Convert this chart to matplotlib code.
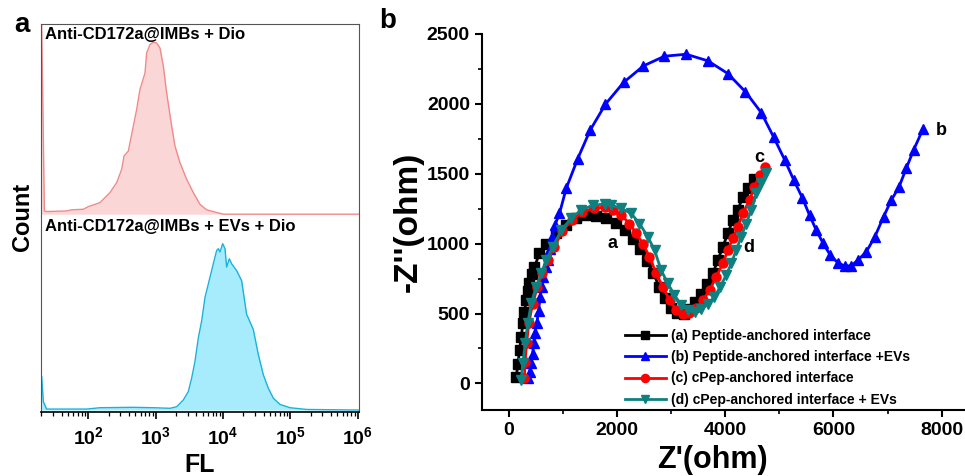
import numpy as np
import matplotlib
matplotlib.use("Agg")
import matplotlib.pyplot as plt
from matplotlib.ticker import FixedLocator, FixedFormatter, NullFormatter


# ============================================================
# Data
# ============================================================

# (a) flow cytometry histograms, x = log10(FL), y = relative count
dio_logfl = [1.307, 1.347, 1.381, 1.678, 1.752, 1.926, 2.000, 2.173, 2.322, 2.421,
             2.495, 2.530, 2.594, 2.668, 2.718, 2.767, 2.842, 2.866, 2.916, 2.965,
             3.015, 3.064, 3.114, 3.163, 3.238, 3.287, 3.361, 3.460, 3.559, 3.658,
             3.757, 3.906, 4.005, 6.010]
dio_count = [99.7, 1.7, 1.4, 1.7, 2.3, 2.6, 4.0, 6.1, 11.4, 16.6,
             23.6, 30.6, 33.2, 46.3, 55.1, 65.6, 74.3, 84.8, 89.2, 90.4,
             90.0, 87.4, 77.8, 63.8, 46.3, 35.8, 27.1, 18.4, 11.4, 5.2,
             2.3, 0.9, 0.0, 0.0]

ev_logfl = [1.307, 1.332, 1.381, 1.975, 2.173, 2.668, 2.965, 3.213, 3.312, 3.411,
            3.485, 3.535, 3.584, 3.634, 3.683, 3.733, 3.807, 3.856, 3.906, 3.931,
            3.955, 3.980, 3.995, 4.030, 4.054, 4.094, 4.129, 4.203, 4.277, 4.351,
            4.450, 4.525, 4.599, 4.673, 4.748, 4.847, 4.995, 5.243, 6.010]
ev_count = [17.3, 4.3, 0.5, 0.5, 1.2, 1.4, 1.2, 0.9, 1.7, 5.2,
            9.5, 16.5, 25.1, 37.3, 45.9, 58.1, 68.5, 75.4, 82.3, 83.2,
            81.5, 84.1, 85.8, 83.2, 73.7, 78.0, 75.4, 71.9, 66.7, 49.4,
            41.6, 28.6, 18.2, 11.3, 6.1, 2.9, 1.2, 0.3, 0.0]

# (b) Nyquist plots, Z' and -Z'' in ohm
a_zre = [137, 170, 198, 230, 259, 290, 321, 350, 382, 430, 475, 567, 691, 876, 1061,
         1246, 1430, 1615, 1800, 1985, 2150, 2300, 2430, 2550, 2670, 2780, 2880, 3000,
         3110, 3230, 3340, 3450, 3560, 3660, 3770, 3863, 3955, 4047, 4140, 4232, 4324,
         4417, 4522]
a_zim = [47, 140, 238, 330, 429, 510, 596, 660, 715, 780, 834, 930, 1001, 1073, 1132,
         1180, 1204, 1197, 1180, 1150, 1097, 1035, 960, 875, 790, 691, 608, 540,
         505, 500, 530, 580, 640, 710, 787, 882, 977, 1073, 1168, 1240, 1335,
         1395, 1459]

b_zre = [350, 383, 414, 440, 457, 480, 517, 550, 580, 605, 629, 680, 721, 760, 802,
         850, 937, 1061, 1275, 1504, 1787, 2120, 2489, 2877, 3278, 3678, 4047, 4374,
         4664, 4892, 5095, 5267, 5422, 5557, 5681, 5803, 5940, 6080, 6204, 6328, 6450,
         6605, 6758, 6925, 7067, 7207, 7344, 7479, 7651]
b_zim = [40, 80, 143, 210, 286, 360, 429, 520, 620, 690, 763, 830, 882, 960, 1044,
         1130, 1216, 1395, 1609, 1812, 1998, 2153, 2272, 2341, 2355, 2308, 2217, 2086,
         1938, 1764, 1602, 1454, 1330, 1204, 1097, 1006, 918, 863, 841, 841, 882,
         941, 1044, 1192, 1311, 1402, 1538, 1669, 1817]

c_zre = [290, 300, 330, 370, 440, 530, 620, 720, 840, 990, 1170, 1360, 1570, 1769,
         1922, 2077, 2230, 2354, 2476, 2600, 2724, 2846, 2970, 3094, 3216, 3339, 3463,
         3585, 3709, 3833, 3955, 4047, 4140, 4232, 4324, 4448, 4540, 4633, 4738]
c_zim = [36, 150, 290, 430, 570, 690, 790, 880, 975, 1090, 1170, 1225, 1255, 1259,
         1240, 1204, 1144, 1073, 1001, 906, 787, 691, 596, 524, 494, 501, 537,
         596, 667, 763, 858, 954, 1037, 1120, 1216, 1311, 1406, 1490, 1549]

d_zre = [229, 259, 303, 351, 414, 506, 599, 691, 813, 968, 1153, 1338, 1552, 1769,
         1892, 2077, 2262, 2415, 2569, 2693, 2816, 2938, 3062, 3186, 3308, 3432, 3555,
         3678, 3801, 3907, 4017, 4110, 4202, 4295, 4387, 4480, 4572, 4665, 4757]
d_zim = [24, 143, 286, 429, 572, 691, 787, 882, 977, 1097, 1180, 1240, 1275, 1283,
         1275, 1252, 1216, 1144, 1049, 954, 810, 715, 632, 560, 524, 512, 529,
         567, 620, 691, 775, 858, 954, 1049, 1144, 1240, 1359, 1431, 1507]

legend_labels = [
    "(a) Peptide-anchored interface",
    "(b) Peptide-anchored interface +EVs",
    "(c) cPep-anchored interface",
    "(d) cPep-anchored interface + EVs",
]


# ============================================================
# Figure style
# ============================================================

plt.rcParams.update({
    "font.family": ["Liberation Sans", "DejaVu Sans"],
    "font.weight": "bold",
    "mathtext.fontset": "custom",
    "mathtext.rm": "Liberation Sans:bold",
    "mathtext.bf": "Liberation Sans:bold",
    "axes.linewidth": 1.5,
})

fig = plt.figure(figsize=(9.65, 4.76), dpi=100)

# ============================================================
# (a) Flow cytometry
# ============================================================

ax_top = fig.add_axes([0.0425, 0.546, 0.3295, 0.4036])
ax_bot = fig.add_axes([0.0425, 0.1345, 0.3295, 0.4115])

hist_styles = [
    (ax_top, dio_logfl, dio_count, "#fbd6d6", "#f08a8a", "Anti-CD172a@IMBs + Dio"),
    (ax_bot, ev_logfl, ev_count, "#a6ecfc", "#1ab2dc", "Anti-CD172a@IMBs + EVs + Dio"),
]
for ax, lx, cnt, fc, ec, title in hist_styles:
    fl = 10 ** np.asarray(lx)
    ax.fill_between(fl, cnt, 0, color=fc, linewidth=0)
    ax.plot(fl, cnt, color=ec, linewidth=1.0)
    ax.set_xscale("log")
    ax.set_xlim(10 ** 1.297, 10 ** 6.02)
    ax.set_ylim(-1, 100)
    ax.set_yticks([])
    for side in ["top", "left", "right", "bottom"]:
        ax.spines[side].set_linewidth(0.8)
        ax.spines[side].set_color("#555555")
    ax.text(0.012, 0.985, title, transform=ax.transAxes, ha="left", va="top",
            fontsize=12, fontweight="bold")

ax_top.tick_params(axis="x", which="both", bottom=False, labelbottom=False)
ax_top.spines["bottom"].set_color("#aaaaaa")
ax_top.spines["bottom"].set_linewidth(0.6)
ax_bot.spines["top"].set_visible(False)
ax_bot.spines["bottom"].set_color("black")
ax_bot.spines["bottom"].set_linewidth(1.2)

decades = [100, 1000, 10000, 100000, 1000000]
ax_bot.xaxis.set_major_locator(FixedLocator(decades))
ax_bot.xaxis.set_major_formatter(FixedFormatter(
    [r"$\mathbf{10^{2}}$", r"$\mathbf{10^{3}}$", r"$\mathbf{10^{4}}$",
     r"$\mathbf{10^{5}}$", r"$\mathbf{10^{6}}$"]))
minors = [m * 10 ** e for e in range(1, 6) for m in range(2, 10)]
ax_bot.xaxis.set_minor_locator(FixedLocator(minors))
ax_bot.xaxis.set_minor_formatter(NullFormatter())
ax_bot.tick_params(axis="x", which="major", direction="out", length=5, width=1.2,
                   labelsize=14, pad=5)
ax_bot.tick_params(axis="x", which="minor", direction="out", length=3, width=0.9)
ax_bot.set_xlabel("FL", fontsize=18, fontweight="bold", labelpad=4)

fig.text(0.023, 0.545, "Count", rotation=90, ha="center", va="center",
         fontsize=17, fontweight="bold")
fig.text(0.023, 0.947, "a", ha="center", va="center", fontsize=20, fontweight="bold")


# ============================================================
# (b) Nyquist plot
# ============================================================

axb = fig.add_axes([0.4992, 0.1387, 0.5008, 0.7899])
series = [
    (a_zre, a_zim, "black", "s"),
    (b_zre, b_zim, "#0000ff", "^"),
    (c_zre, c_zim, "#ff0000", "o"),
    (d_zre, d_zim, "#0e8080", "v"),
]
handles = []
for (zre, zim, col, mk), lab in zip(series, legend_labels):
    h, = axb.plot(zre, zim, color=col, marker=mk, markersize=6.5, linewidth=2.0,
                  label=lab)
    handles.append(h)

axb.set_xlim(-500, 8430)
axb.set_ylim(-190, 2500)
axb.spines["top"].set_visible(False)
axb.spines["right"].set_visible(False)
axb.set_xticks([0, 2000, 4000, 6000, 8000])
axb.set_xticks([1000, 3000, 5000, 7000], minor=True)
axb.set_yticks([0, 500, 1000, 1500, 2000, 2500])
axb.set_yticks([250, 750, 1250, 1750, 2250], minor=True)
axb.tick_params(which="major", direction="out", length=5, width=1.5, labelsize=14)
axb.tick_params(which="minor", direction="out", length=3, width=1.2)
for lab in axb.get_xticklabels() + axb.get_yticklabels():
    lab.set_fontweight("bold")
axb.set_xlabel("Z'(ohm)", fontsize=22, fontweight="bold")
axb.xaxis.set_label_coords(0.477, -0.094)
axb.set_ylabel("-Z''(ohm)", fontsize=24, fontweight="bold", labelpad=2)

axb.text(1916, 1004, "a", fontsize=13, fontweight="bold", ha="center", va="center")
axb.text(7996, 1812, "b", fontsize=13, fontweight="bold", ha="center", va="center")
axb.text(4630, 1619, "c", fontsize=13, fontweight="bold", ha="center", va="center")
axb.text(4425, 975, "d", fontsize=13, fontweight="bold", ha="center", va="center")

axb.legend(handles=handles, loc="upper left", bbox_to_anchor=(0.640, 0.3235),
           bbox_transform=fig.transFigure, frameon=False,
           prop={"size": 10, "weight": "bold"},
           handlelength=3.0, handletextpad=0.35, labelspacing=0.52,
           borderpad=0.0, markerscale=0.9)

fig.text(0.402, 0.955, "b", ha="center", va="center", fontsize=20, fontweight="bold")

fig.savefig("out.png", dpi=100)
